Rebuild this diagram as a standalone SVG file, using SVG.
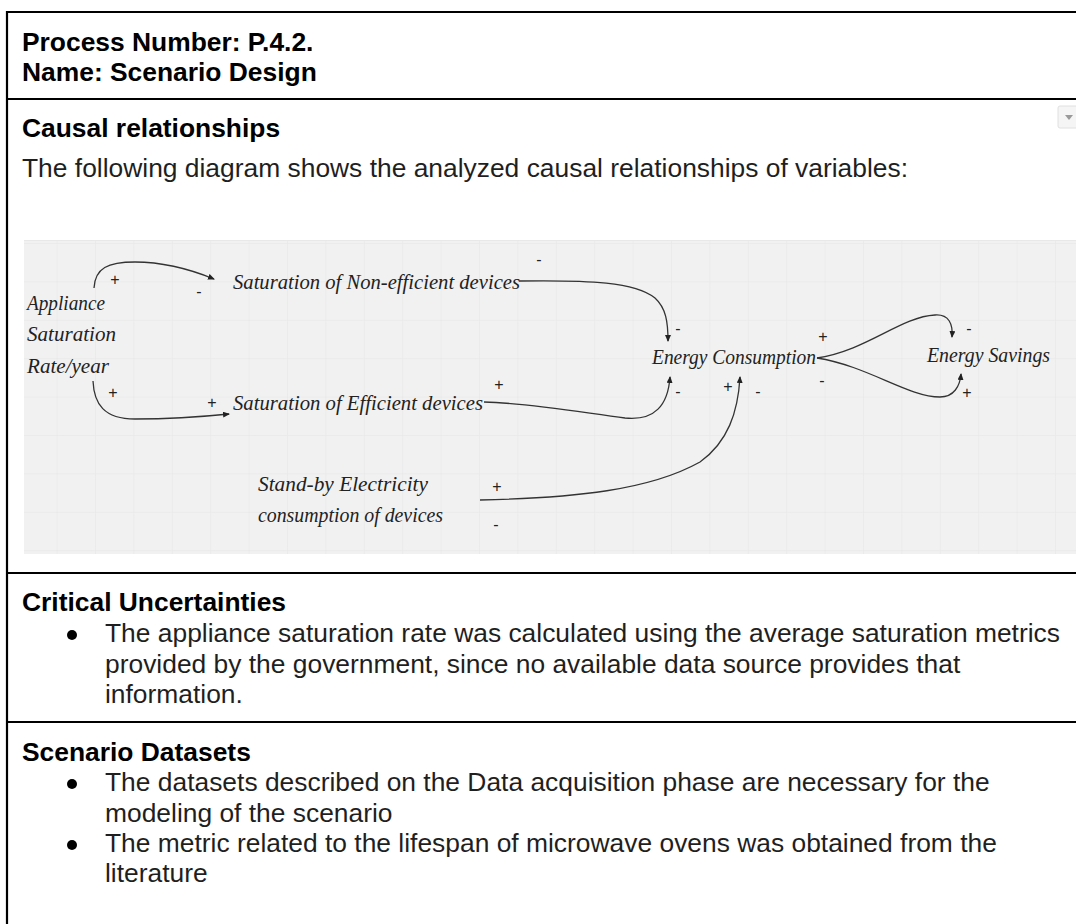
<svg xmlns="http://www.w3.org/2000/svg" width="1076" height="924" viewBox="0 0 1076 924">
  <defs>
    <style>
      .doc { font-family: "Liberation Sans", Arial, sans-serif; font-size: 26.4px; fill: #1f1f1f; }
      .head { font-weight: bold; fill: #000; }
      .frame { stroke: #000; stroke-width: 2.2; fill: none; }
      .grid { stroke: #e6e6e6; stroke-width: 1; }
      .hand { font-family: "Liberation Serif", "Times New Roman", serif; font-style: italic; font-size: 22px; fill: #222; }
      .sign { font-family: "Liberation Sans", Arial, sans-serif; font-size: 16px; fill: #222; text-anchor: middle; }
      .link { fill: none; stroke: #333; stroke-width: 1.3; marker-end: url(#arrow); }
    </style>
    <marker id="arrow" markerUnits="userSpaceOnUse" markerWidth="8" markerHeight="8" refX="6" refY="3" orient="auto">
      <path d="M0,0 L7,3 L0,6 z" fill="#222"/>
    </marker>
    <pattern id="gridPattern" patternUnits="userSpaceOnUse" x="18.2" y="243" width="38.4" height="38.4">
      <path d="M0,0 V38.4 M0,0 H38.4" class="grid"/>
    </pattern>
  </defs>

  <rect width="1076" height="924" fill="#fff"/>

  <!-- table frame -->
  <g id="frame">
    <line class="frame" x1="7" y1="12" x2="1076" y2="12"/>
    <line class="frame" x1="7" y1="11" x2="7" y2="924"/>
    <line class="frame" x1="7" y1="99" x2="1076" y2="99"/>
    <line class="frame" x1="7" y1="573" x2="1076" y2="573"/>
    <line class="frame" x1="7" y1="722" x2="1076" y2="722"/>
  </g>

  <!-- header row -->
  <g id="header">
    <text class="doc head" x="22" y="51">Process Number: P.4.2.</text>
    <text class="doc head" x="22" y="81">Name: Scenario Design</text>
  </g>

  <!-- causal relationships section -->
  <g id="causal-section">
    <text class="doc head" x="22" y="137">Causal relationships</text>
    <text class="doc" x="22" y="177">The following diagram shows the analyzed causal relationships of variables:</text>
    <g id="dropdown-icon">
      <rect x="1058" y="106" width="22" height="22" rx="2" fill="#f5f5f5" stroke="#e0e0e0"/>
      <path d="M1065,115 L1073,115 L1069,120 z" fill="#9a9a9a"/>
    </g>
  </g>

  <!-- causal loop diagram canvas -->
  <g id="canvas">
    <rect x="24" y="240" width="1052" height="314" fill="#f1f1f1"/>
    <rect x="24" y="240" width="1052" height="314" fill="url(#gridPattern)"/>
    <line x1="24" y1="240.5" x2="1076" y2="240.5" stroke="#e8e8e8" stroke-width="1"/>
  </g>

  <g id="connectors">
    <path class="link" d="M94,288 C95,268 108,262 135,262 C165,262 192,270 214,279"/>
    <path class="link" d="M93,381 C94,404 104,419 135,419 C165,419 200,417 229,414"/>
    <path class="link" d="M519,281 C590,280 635,282 655,298 C666,308 668,322 668,341"/>
    <path class="link" d="M484,402 C530,403 585,413 625,418 C655,421 668,405 670,377"/>
    <path class="link" d="M480,500 C575,498 650,490 700,462 C728,442 738,412 740,377"/>
    <path class="link" d="M817,358 C868,350 900,317 935,315 C949,314 953,324 952,337"/>
    <path class="link" d="M817,358 C868,366 908,397 940,397 C954,397 960,386 961,374"/>
  </g>

  <g id="polarities">
    <text class="sign" x="115" y="285">+</text>
    <text class="sign" x="199" y="297">-</text>
    <text class="sign" x="113" y="398">+</text>
    <text class="sign" x="212" y="408">+</text>
    <text class="sign" x="539" y="265">-</text>
    <text class="sign" x="499" y="390">+</text>
    <text class="sign" x="678" y="334">-</text>
    <text class="sign" x="678" y="397">-</text>
    <text class="sign" x="728" y="392">+</text>
    <text class="sign" x="758" y="397">-</text>
    <text class="sign" x="823" y="342">+</text>
    <text class="sign" x="822" y="386">-</text>
    <text class="sign" x="969" y="334">-</text>
    <text class="sign" x="967" y="398">+</text>
    <text class="sign" x="497" y="492">+</text>
    <text class="sign" x="496" y="530">-</text>
  </g>

  <g id="node-appliance-saturation">
    <text class="hand" x="27" y="310" textLength="78" lengthAdjust="spacingAndGlyphs">Appliance</text>
    <text class="hand" x="27" y="341" textLength="89" lengthAdjust="spacingAndGlyphs">Saturation</text>
    <text class="hand" x="27" y="373" textLength="82" lengthAdjust="spacingAndGlyphs">Rate/year</text>
  </g>
  <g id="node-non-efficient">
    <text class="hand" x="233" y="289" textLength="287" lengthAdjust="spacingAndGlyphs">Saturation of Non-efficient devices</text>
  </g>
  <g id="node-efficient">
    <text class="hand" x="233" y="410" textLength="250" lengthAdjust="spacingAndGlyphs">Saturation of Efficient devices</text>
  </g>
  <g id="node-energy-consumption">
    <text class="hand" x="652" y="364" textLength="164" lengthAdjust="spacingAndGlyphs">Energy Consumption</text>
  </g>
  <g id="node-energy-savings">
    <text class="hand" x="927" y="362" textLength="123" lengthAdjust="spacingAndGlyphs">Energy Savings</text>
  </g>
  <g id="node-standby">
    <text class="hand" x="258" y="491" textLength="170" lengthAdjust="spacingAndGlyphs">Stand-by Electricity</text>
    <text class="hand" x="258" y="522" textLength="185" lengthAdjust="spacingAndGlyphs">consumption of devices</text>
  </g>

  <!-- critical uncertainties section -->
  <g id="uncertainties-section">
    <text class="doc head" x="22" y="611">Critical Uncertainties</text>
    <circle cx="72" cy="635" r="5" fill="#000"/>
    <text class="doc" x="105" y="642">The appliance saturation rate was calculated using the average saturation metrics</text>
    <text class="doc" x="105" y="673">provided by the government, since no available data source provides that</text>
    <text class="doc" x="105" y="703">information.</text>
  </g>

  <!-- scenario datasets section -->
  <g id="datasets-section">
    <text class="doc head" x="22" y="761">Scenario Datasets</text>
    <circle cx="72" cy="784" r="5" fill="#000"/>
    <text class="doc" x="105" y="791">The datasets described on the Data acquisition phase are necessary for the</text>
    <text class="doc" x="105" y="822">modeling of the scenario</text>
    <circle cx="72" cy="845" r="5" fill="#000"/>
    <text class="doc" x="105" y="852">The metric related to the lifespan of microwave ovens was obtained from the</text>
    <text class="doc" x="105" y="882">literature</text>
  </g>
</svg>
